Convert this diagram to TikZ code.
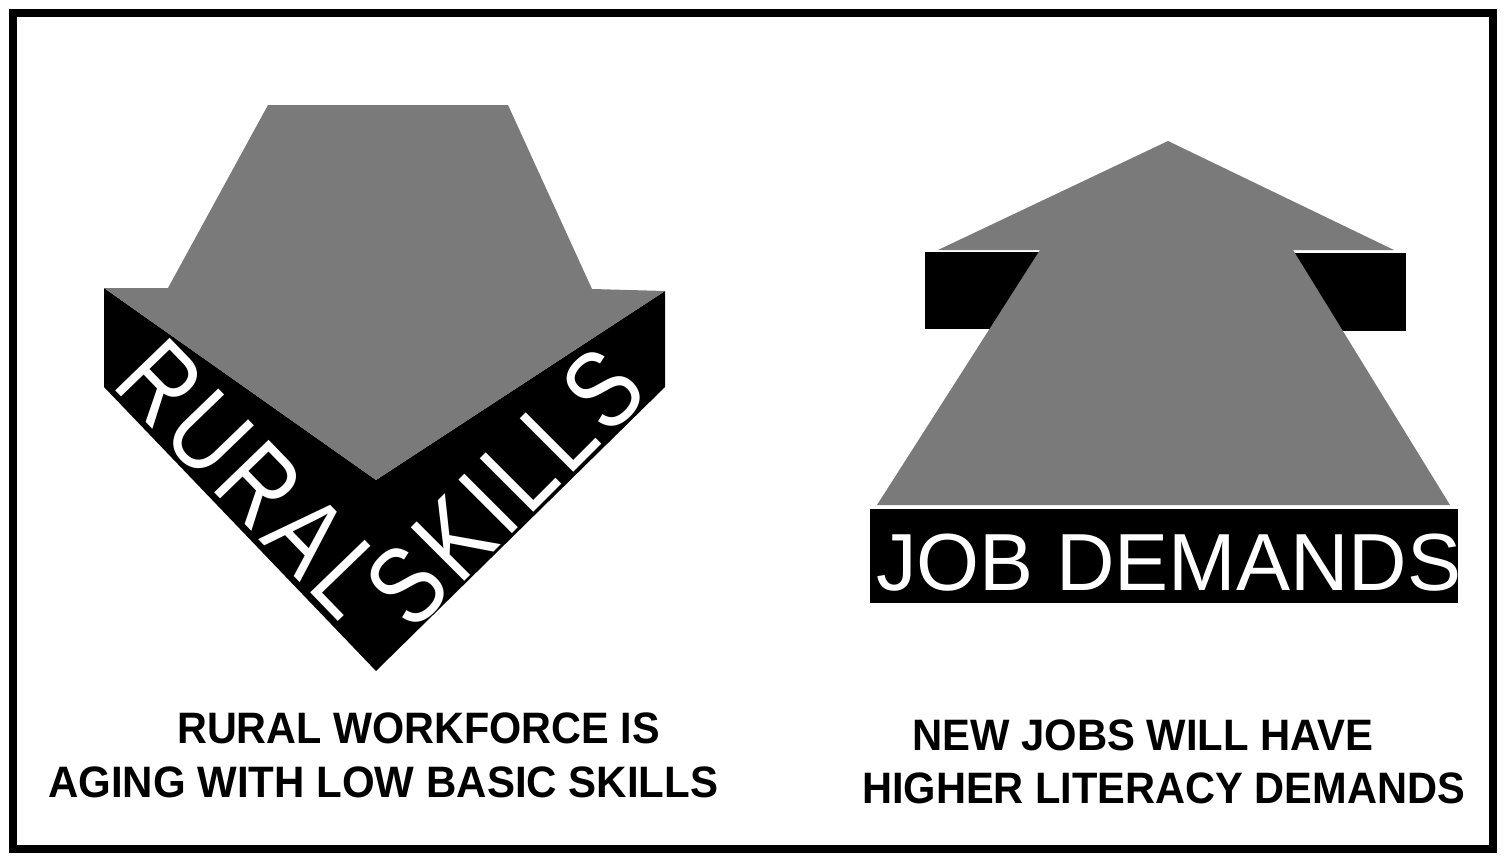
\documentclass[tikz,border=0pt]{standalone}
\usepackage{fontspec}
\setmainfont{Liberation Sans}
\newfontfamily\bandfont{Liberation Sans}[LetterSpace=7]
\begin{document}
\begin{tikzpicture}[x=1pt,y=-1pt,
  tex/.style={fill=black!52},
  ink/.style={fill=black},
  bandtext/.style={text=white, inner sep=0pt, anchor=base west, font=\bandfont\fontsize{110}{110}\selectfont},
  jobtext/.style={text=white, inner sep=0pt, anchor=base west, font=\fontsize{81}{81}\selectfont},
  caption/.style={inner sep=0pt, anchor=base west, font=\fontsize{44}{44}\selectfont\bfseries},
  frame/.style={line width=8pt}]
\useasboundingbox (0,0) rectangle (1505,862);
\fill[white] (0,0) rectangle (1505,862);
% left: downward arrow
\fill[ink] (104,288) -- (376,480) -- (665,291) -- (665,387) -- (376,671) -- (104,387) -- cycle;
\fill[tex] (268,105) -- (508,105) -- (592,289) -- (665,291) -- (376,480) -- (104,288) -- (168,288) -- cycle;
\node[bandtext, rotate=-46] (rural) at (110,385) {\scalebox{0.82}[1]{RURAL}};
\node[bandtext, rotate=45] (skills) at (412,634) {\scalebox{0.82}[1]{SKILLS}};
% right: upward arrow
\fill[ink] (925,252) rectangle (1070,329);
\fill[ink] (1265,253) rectangle (1406,331);
\fill[tex] (1168,141) -- (1394,250) -- (1293,250) -- (1450,505) -- (877,505) -- (1040,250) -- (938,250) -- cycle;
\fill[ink] (870,509) rectangle (1458,603);
\node[jobtext] (jobs) at (876,590) {JOB DEMANDS};
% captions
\node[caption] (capla) at (177,743) {\scalebox{0.94}[1]{RURAL WORKFORCE IS}};
\node[caption] (caplb) at (48,797) {\scalebox{0.955}[1]{AGING WITH LOW BASIC SKILLS}};
\node[caption] (capra) at (912,750) {\scalebox{0.95}[1]{NEW JOBS WILL HAVE}};
\node[caption] (caprb) at (862,803) {\scalebox{0.945}[1]{HIGHER LITERACY DEMANDS}};
% frame
\draw[frame] (13,13) rectangle (1493,849);
\end{tikzpicture}
\end{document}
